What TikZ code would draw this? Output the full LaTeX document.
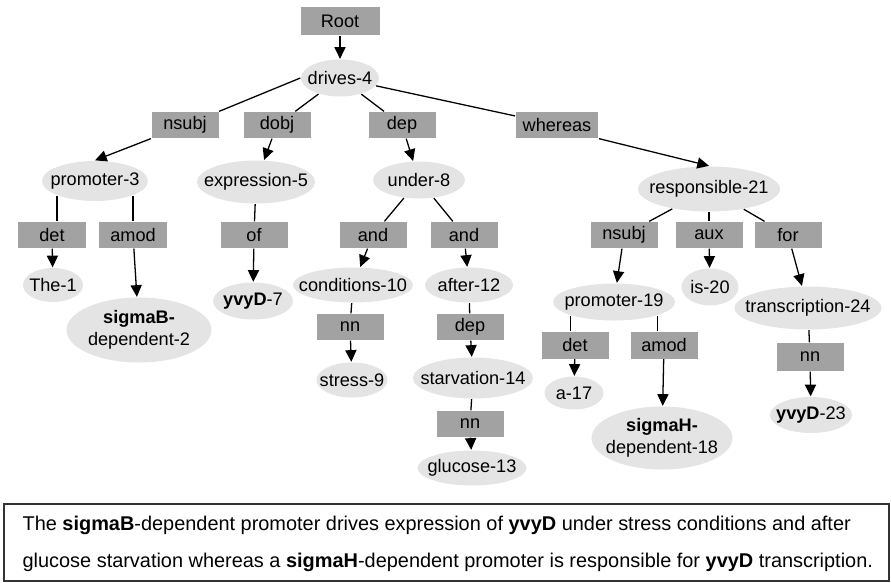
\documentclass[tikz,border=0pt]{standalone}
\usepackage{fontspec}
\setmainfont{Liberation Sans}
\usetikzlibrary{shapes.geometric,arrows.meta}
\definecolor{relgray}{HTML}{A2A2A2}
\definecolor{wordgray}{HTML}{E4E4E4}
\begin{document}
\begin{tikzpicture}[
        x=0.03cm, y=-0.03cm,
        line width=1.1pt,
        font=\fontsize{15.5}{19}\selectfont
    ]
    \tikzset{
        relnode/.style = {rectangle, fill=relgray, inner xsep=0.21cm, inner ysep=0pt, minimum width=2.01cm, minimum height=0.78cm},
        wordnode/.style = {ellipse, fill=wordgray, inner sep=-1cm, minimum width=#1*0.03cm, minimum height=1.11cm},
        deparrow/.style = {-{Triangle[length=10pt,width=9.5pt]}},
        captionline/.style = {anchor=base west, inner sep=0pt, font=\fontsize{17}{20}\selectfont},
    }
    \useasboundingbox (0,0) rectangle (891,582);
    \node[relnode, minimum width=2.37cm, minimum height=0.84cm] (root) at (340,21) {Root};
    \node[wordnode=78] (drives4) at (340,78) {drives-4};
    \node[relnode] (nsubjA) at (185,125) {nsubj};
    \node[relnode] (dobj) at (277,125) {dobj};
    \node[relnode] (depA) at (402,125) {dep};
    \node[relnode] (whereas) at (557,125) {whereas};
    \node[wordnode=106, minimum height=1.2cm] (promoter3) at (95,181) {promoter-3};
    \node[wordnode=118, minimum height=1.29cm] (expression5) at (256,182) {expression-5};
    \node[wordnode=92] (under8) at (419,180) {under-8};
    \node[wordnode=142, minimum height=1.35cm] (responsible21) at (709,189) {responsible-21};
    \node[relnode] (detA) at (52,235) {det};
    \node[relnode] (amodA) at (133,235) {amod};
    \node[relnode] (of) at (254,235) {of};
    \node[relnode] (andA) at (373,235) {and};
    \node[relnode] (andB) at (464,235) {and};
    \node[relnode] (nsubjB) at (624,235) {nsubj};
    \node[relnode] (aux) at (709,235) {aux};
    \node[relnode] (for) at (788,235) {for};
    \node[wordnode=60, minimum height=1.02cm] (the1) at (53,285) {The-1};
    \node[wordnode=145, minimum height=1.95cm, align=center] (sigmaB2) at (139,330) {\textbf{sigmaB-}\\dependent-2};
    \node[wordnode=80] (yvyD7) at (253,301) {\textbf{yvyD}-7};
    \node[wordnode=120, minimum height=1.05cm] (conditions10) at (353,285) {conditions-10};
    \node[relnode] (nnA) at (350,327) {nn};
    \node[wordnode=71, minimum height=1.05cm] (stress9) at (352,380) {stress-9};
    \node[wordnode=88, minimum height=1.05cm] (after12) at (469,285) {after-12};
    \node[relnode] (depB) at (470,327) {dep};
    \node[wordnode=120, minimum height=1.23cm] (starvation14) at (473,378) {starvation-14};
    \node[relnode] (nnB) at (470,424) {nn};
    \node[wordnode=109, minimum height=1.05cm] (glucose13) at (472,468) {glucose-13};
    \node[wordnode=122] (promoter19) at (614,302) {promoter-19};
    \node[wordnode=57] (is20) at (710,287) {is-20};
    \node[wordnode=147, minimum height=1.29cm] (transcription24) at (808,308) {transcription-24};
    \node[relnode, minimum height=0.81cm] (detB) at (575,345) {det};
    \node[relnode, minimum height=0.81cm] (amodB) at (664,345) {amod};
    \node[relnode, minimum height=0.84cm] (nnC) at (810,357) {nn};
    \node[wordnode=59, minimum height=0.99cm] (a17) at (574,393) {a-17};
    \node[wordnode=141, minimum height=1.89cm, align=center] (sigmaH18) at (662,438) {\textbf{sigmaH-}\\dependent-18};
    \node[wordnode=82, minimum height=1.08cm] (yvyD23) at (811,415) {\textbf{yvyD}-23};
    \draw[deparrow] (root) -- (drives4);
    \draw (drives4.west) -- (nsubjA.north east);
    \draw (drives4) -- (dobj);
    \draw (drives4) -- (depA);
    \draw (drives4) -- (whereas);
    \draw[deparrow] (nsubjA.south west) -- (promoter3.north);
    \draw[deparrow] (dobj) -- (expression5);
    \draw[deparrow] (depA) -- (under8);
    \draw[deparrow] (whereas.south east) -- (responsible21.north);
    \draw (promoter3.south west) -- (promoter3.south west |- detA.north);
    \draw (promoter3.south east) -- (promoter3.south east |- amodA.north);
    \draw[deparrow] (detA) -- (the1);
    \draw[deparrow] (amodA) -- (sigmaB2);
    \draw (expression5) -- (of);
    \draw[deparrow] (of) -- (yvyD7);
    \draw (under8) -- (andA);
    \draw (under8) -- (andB);
    \draw[deparrow] (andA) -- (conditions10);
    \draw[deparrow] (andB) -- (after12);
    \draw (conditions10) -- (nnA);
    \draw[deparrow] (nnA) -- (stress9);
    \draw (after12) -- (depB);
    \draw[deparrow] (depB) -- (starvation14);
    \draw (starvation14) -- (nnB);
    \draw[deparrow] (nnB) -- (glucose13);
    \draw (responsible21) -- (nsubjB);
    \draw (responsible21) -- (aux);
    \draw (responsible21) -- (for);
    \draw[deparrow] (nsubjB) -- (promoter19);
    \draw[deparrow] (aux) -- (is20);
    \draw[deparrow] (for) -- (transcription24);
    \draw (promoter19.south west) -- (promoter19.south west |- detB.north);
    \draw (promoter19.south east) -- (promoter19.south east |- amodB.north);
    \draw[deparrow] (detB) -- (a17);
    \draw[deparrow] (amodB) -- (sigmaH18);
    \draw (transcription24) -- (nnC);
    \draw[deparrow] (nnC) -- (yvyD23);
    \draw[line width=1.2pt, draw=black!80] (4,504) rectangle (889,581);
    \node[captionline] (captionA) at (22,530) {The \textbf{sigmaB}-dependent promoter drives expression of \textbf{yvyD} under stress conditions and after};
    \node[captionline] (captionB) at (22,567) {glucose starvation whereas a \textbf{sigmaH}-dependent promoter is responsible for \textbf{yvyD} transcription.};
\end{tikzpicture}
\end{document}
